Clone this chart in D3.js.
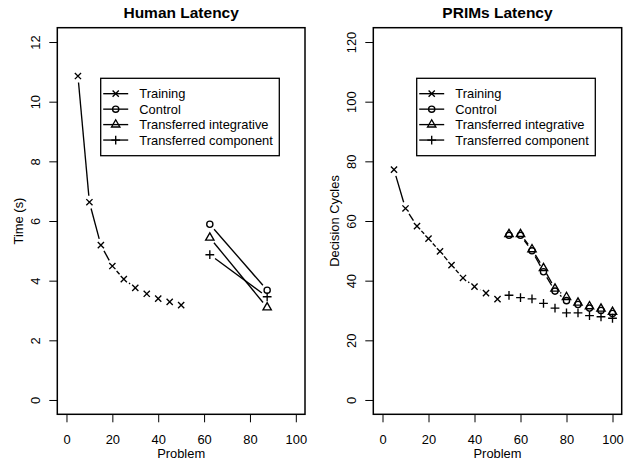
<!DOCTYPE html>
<html>
<head>
<meta charset="utf-8">
<script src="https://cdn.jsdelivr.net/npm/d3@7"></script>
<style>
  html, body { margin: 0; padding: 0; background: #fff; }
  svg { display: block; font-family: "Liberation Sans", Arial, Helvetica, sans-serif; }
</style>
</head>
<body>
<svg id="chart" width="629" height="463"></svg>
<script>
// ---------------- DATA ----------------
const xTicks = [0, 20, 40, 60, 80, 100];
const humanYTicks = [0, 2, 4, 6, 8, 10, 12];
const primsYTicks = [0, 20, 40, 60, 80, 100, 120];

const trainingProblems = [5, 10, 15, 20, 25, 30, 35, 40, 45, 50];

// Human latency (seconds)
const humanTraining = [10.86, 6.63, 5.19, 4.49, 4.05, 3.76, 3.56, 3.40, 3.29, 3.18];
const humanTransferProblems = [62.5, 87.5];
const humanControl = [5.89, 3.68];
const humanIntegrative = [5.44, 3.10];
const humanComponent = [4.87, 3.46];

// PRIMs latency (decision cycles)
const primsTraining = [77.2, 64.2, 58.3, 54.1, 49.8, 45.2, 40.9, 38.0, 35.8, 33.8];
const primsTransferProblems = [55, 60, 65, 70, 75, 80, 85, 90, 95, 100];
const primsControl = [55.2, 55.2, 50.0, 43.0, 36.5, 33.3, 32.0, 30.8, 30.0, 29.0];
const primsIntegrative = [55.6, 55.6, 50.5, 44.2, 37.3, 34.5, 32.6, 31.4, 30.6, 29.5];
const primsComponent = [35.1, 34.3, 33.9, 32.4, 30.8, 29.2, 29.2, 28.3, 27.9, 27.4];

const legendLabels = ["Training", "Control", "Transferred integrative", "Transferred component"];
const legendSymbols = ["times", "circle", "triangle", "plus"];

// ---------------- DRAWING ----------------
const svg = d3.select("#chart");
const FONT = 12.9;
const R = 3.1;       // symbol radius
const GAP = 6.5;     // type="b" gap
const LW = 1.35;

function symbolPath(type, x, y) {
  if (type === "times") {
    return `M${x - R},${y - R}L${x + R},${y + R}M${x - R},${y + R}L${x + R},${y - R}`;
  }
  if (type === "plus") {
    const c = Math.SQRT2 * R;
    return `M${x - c},${y}L${x + c},${y}M${x},${y - c}L${x},${y + c}`;
  }
  if (type === "triangle") {
    const TRC0 = Math.sqrt(4 * Math.PI / (3 * Math.sqrt(3)));
    const r = TRC0 * R, yc = TRC0 / 2 * R, xc = TRC0 * Math.sqrt(3) / 2 * R;
    return `M${x},${y - r}L${x + xc},${y + yc}L${x - xc},${y + yc}Z`;
  }
  return null;
}

function drawSymbol(g, type, x, y) {
  if (type === "circle") {
    g.append("circle").attr("cx", x).attr("cy", y).attr("r", R)
      .attr("fill", "none").attr("stroke", "#000").attr("stroke-width", LW);
  } else {
    g.append("path").attr("d", symbolPath(type, x, y))
      .attr("fill", "none").attr("stroke", "#000").attr("stroke-width", LW);
  }
}

function drawSeriesB(g, xs, ys, xScale, yScale, type) {
  const pts = xs.map((x, i) => [xScale(x), yScale(ys[i])]);
  for (let i = 1; i < pts.length; i++) {
    const [x0, y0] = pts[i - 1], [x1, y1] = pts[i];
    const dist = Math.hypot(x1 - x0, y1 - y0);
    const f = GAP / dist;
    if (f < 0.5) {
      g.append("line")
        .attr("x1", x0 + f * (x1 - x0)).attr("y1", y0 + f * (y1 - y0))
        .attr("x2", x1 - f * (x1 - x0)).attr("y2", y1 - f * (y1 - y0))
        .attr("stroke", "#000").attr("stroke-width", LW);
    }
  }
  pts.forEach(([x, y]) => drawSymbol(g, type, x, y));
}

function panel(opts) {
  const { left, right, top, bottom, yMax, yTicks, title, yLabel, series } = opts;
  const g = svg.append("g");
  const xScale = d3.scaleLinear().domain([-4, 104]).range([left, right]);
  const yPad = yMax * 0.04;
  const yScale = d3.scaleLinear().domain([-yPad, yMax + yPad]).range([bottom, top]);

  // x axis
  const xAxis = g.append("g").attr("transform", `translate(0,${bottom})`)
    .call(d3.axisBottom(xScale).tickValues(xTicks).tickSize(8).tickPadding(13).tickFormat(d3.format("d")));
  xAxis.select(".domain").remove();
  xAxis.selectAll("line").attr("stroke", "#000").attr("stroke-width", 1);
  xAxis.selectAll("text").attr("font-size", FONT).attr("fill", "#000")
    .attr("font-family", "Liberation Sans, Arial, sans-serif");

  // y axis
  const yAxis = g.append("g").attr("transform", `translate(${left},0)`)
    .call(d3.axisLeft(yScale).tickValues(yTicks).tickSize(8).tickFormat(d3.format("d")));
  yAxis.select(".domain").remove();
  yAxis.selectAll("line").attr("stroke", "#000").attr("stroke-width", 1);
  yAxis.selectAll("text")
    .attr("x", null).attr("dy", null).attr("y", 0)
    .attr("transform", "translate(-17.8,0) rotate(-90)")
    .attr("text-anchor", "middle")
    .attr("font-size", FONT).attr("fill", "#000")
    .attr("font-family", "Liberation Sans, Arial, sans-serif");

  // box
  g.append("rect").attr("x", left).attr("y", top)
    .attr("width", right - left).attr("height", bottom - top)
    .attr("fill", "none").attr("stroke", "#000").attr("stroke-width", 1.5);

  // title
  const cx = (left + right) / 2;
  g.append("text").attr("x", cx).attr("y", 18.4).attr("text-anchor", "middle")
    .attr("font-size", 15.5).attr("font-weight", "bold").text(title);
  // x label
  g.append("text").attr("x", cx).attr("y", 457.8).attr("text-anchor", "middle")
    .attr("font-size", FONT).text("Problem");
  // y label
  const cy = (top + bottom) / 2;
  g.append("text").attr("transform", `translate(${left - 34.3},${cy}) rotate(-90)`)
    .attr("text-anchor", "middle").attr("font-size", FONT).text(yLabel);

  // series
  const sg = g.append("g");
  series.forEach(s => drawSeriesB(sg, s.x, s.y, xScale, yScale, s.sym));

  // legend
  const lx = left + 43.4, ly = 78.3;
  const lg = g.append("g");
  lg.append("rect").attr("x", lx).attr("y", ly).attr("width", 178.6).attr("height", 77.4)
    .attr("fill", "#fff").attr("stroke", "#000").attr("stroke-width", 1.3);
  legendLabels.forEach((lab, i) => {
    const yy = ly + 15.4 + i * 15.45;
    lg.append("line").attr("x1", lx + 2.5).attr("x2", lx + 27.5).attr("y1", yy).attr("y2", yy)
      .attr("stroke", "#000").attr("stroke-width", LW);
    drawSymbol(lg, legendSymbols[i], lx + 15, yy);
    lg.append("text").attr("x", lx + 38.6).attr("y", yy + 4.6).attr("font-size", FONT).text(lab);
  });
}

panel({
  left: 57.3, right: 305, top: 27.7, bottom: 414.3,
  yMax: 12, yTicks: humanYTicks, title: "Human Latency", yLabel: "Time (s)",
  series: [
    { x: trainingProblems, y: humanTraining, sym: "times" },
    { x: humanTransferProblems, y: humanControl, sym: "circle" },
    { x: humanTransferProblems, y: humanIntegrative, sym: "triangle" },
    { x: humanTransferProblems, y: humanComponent, sym: "plus" }
  ]
});

panel({
  left: 373.3, right: 621.7, top: 27.7, bottom: 414.3,
  yMax: 120, yTicks: primsYTicks, title: "PRIMs Latency", yLabel: "Decision Cycles",
  series: [
    { x: trainingProblems, y: primsTraining, sym: "times" },
    { x: primsTransferProblems, y: primsControl, sym: "circle" },
    { x: primsTransferProblems, y: primsIntegrative, sym: "triangle" },
    { x: primsTransferProblems, y: primsComponent, sym: "plus" }
  ]
});
</script>
</body>
</html>
